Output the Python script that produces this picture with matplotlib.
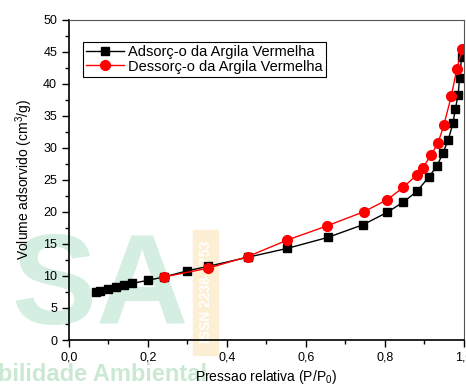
import matplotlib
matplotlib.use('Agg')
import matplotlib.pyplot as plt
from matplotlib.ticker import MultipleLocator, FuncFormatter
from matplotlib.patches import Rectangle

plt.rcParams['font.family'] = ['Liberation Sans', 'DejaVu Sans']
plt.rcParams['mathtext.default'] = 'regular'

# adsorption branch (black squares)
ads_x = [0.068, 0.079, 0.10, 0.12, 0.14, 0.16, 0.20, 0.24, 0.30, 0.353, 0.452, 0.553,
         0.655, 0.745, 0.805, 0.846, 0.881, 0.912, 0.932, 0.946, 0.96, 0.972, 0.978,
         0.985, 0.989, 0.994]
ads_y = [7.44, 7.64, 7.9, 8.27, 8.58, 8.84, 9.31, 9.83, 10.8, 11.5, 12.9, 14.3,
         16.0, 18.0, 19.9, 21.5, 23.2, 25.5, 27.2, 29.1, 31.2, 33.8, 36.0,
         38.2, 40.9, 44.2]

# desorption branch (red circles)
des_x = [0.995, 0.982, 0.968, 0.949, 0.934, 0.916, 0.896, 0.881, 0.846, 0.806,
         0.746, 0.653, 0.553, 0.452, 0.352, 0.24]
des_y = [45.4, 42.3, 38.1, 33.5, 30.7, 28.8, 26.9, 25.8, 23.8, 21.9,
         20.0, 17.8, 15.6, 13.0, 11.2, 9.83]

lbl_ads = 'Adsorç-o da Argila Vermelha'
lbl_des = 'Dessorç-o da Argila Vermelha'

fig = plt.figure(figsize=(4.66, 3.88), dpi=100)

# journal watermark behind the plot
fig.text(0.025, 0.095, 'SA', fontsize=92, fontweight='bold', color='#d4efe1',
         zorder=-5, ha='left', va='bottom')
fig.text(-0.005, 0.005, 'bilidade Ambiental', fontsize=17, fontweight='bold',
         color='#cbe8d3', zorder=-5, ha='left', va='bottom')
fig.patches.append(Rectangle((193 / 466, 1 - 355 / 388), 25 / 466, 125 / 388,
                             transform=fig.transFigure, color='#fcefd3', zorder=-4))
fig.text(205.5 / 466, 1 - 292 / 388, 'ISSN 2238-1753', rotation=90, fontsize=10,
         fontweight='bold', color='white', ha='center', va='center', zorder=-3)

ax = fig.add_axes([0.148, 0.1237, 0.8477, 0.826])
ax.patch.set_alpha(0)

ax.plot(ads_x, ads_y, color='black', lw=1, marker='s', ms=6, label=lbl_ads)
ax.plot(des_x, des_y, color='red', lw=1, marker='o', ms=7, label=lbl_des)

ax.set_xlim(0, 1.0)
ax.set_ylim(0, 50)
ax.xaxis.set_major_locator(MultipleLocator(0.2))
ax.xaxis.set_minor_locator(MultipleLocator(0.1))
ax.yaxis.set_major_locator(MultipleLocator(5))
ax.yaxis.set_minor_locator(MultipleLocator(2.5))
ax.xaxis.set_major_formatter(FuncFormatter(lambda v, p: f'{v:.1f}'.replace('.', ',')))
ax.tick_params(which='both', direction='out', labelsize=9, width=1)
ax.tick_params(which='major', length=5)
ax.tick_params(which='minor', length=3)

for s in ['left', 'bottom']:
    ax.spines[s].set_linewidth(1.2)
for s in ['top', 'right']:
    ax.spines[s].set_linewidth(0.8)
    ax.spines[s].set_color('#555555')

ax.set_xlabel('Pressao relativa (P/P$_0$)', fontsize=10, labelpad=3)
ax.set_ylabel('Volume adsorvido (cm$^3$/g)', fontsize=10, labelpad=6)

leg = ax.legend(loc='upper left', bbox_to_anchor=(0.035, 0.93), fontsize=10.5,
                fancybox=False, edgecolor='black', framealpha=1, borderpad=0.2,
                handlelength=2.6, handletextpad=0.3, labelspacing=0.05,
                borderaxespad=0)
leg.get_frame().set_linewidth(0.8)

fig.savefig('out.png', dpi=100)
